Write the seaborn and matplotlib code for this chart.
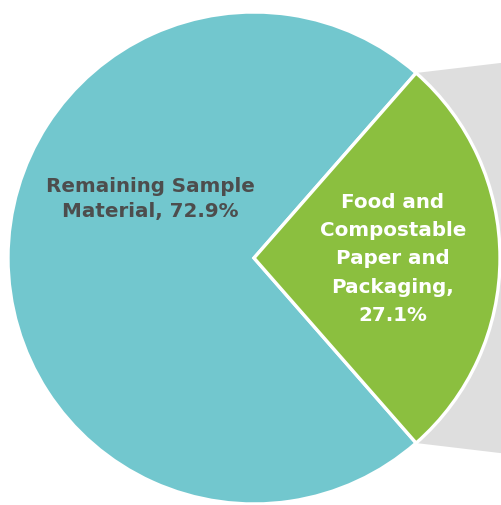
import numpy as np
import matplotlib
matplotlib.use("Agg")
import matplotlib.pyplot as plt
from matplotlib.patches import Polygon
import seaborn as sns

# Composition of the sample
categories = ["Remaining Sample\nMaterial", "Food and\nCompostable\nPaper and\nPackaging,"]
shares = [72.9, 27.1]
colors = ["#72C7CE", "#8BBF3F"]
text_colors = ["#4D4D4D", "#FFFFFF"]

sns.set_theme(style="white")
plt.rcParams["font.family"] = ["DejaVu Sans"]

W, H = 502, 506
fig = plt.figure(figsize=(W / 100, H / 100), dpi=100)
ax = fig.add_axes([0, 0, 1, 1])

cx, cy, r = 254, H - 259, 246
total = sum(shares)
start = 360 * shares[1] / total / 2

wedges, _ = ax.pie(
    shares, colors=colors, startangle=start, center=(cx, cy), radius=r,
    wedgeprops=dict(edgecolor="white", linewidth=2.4), frame=True,
)

# Connector band leading from the green slice towards the breakdown on the right
w = wedges[1]
t1, t2 = np.deg2rad(w.theta1), np.deg2rad(w.theta2)
p_bot = (cx + r * np.cos(t1), cy + r * np.sin(t1))
p_top = (cx + r * np.cos(t2), cy + r * np.sin(t2))
far_x = 620
band = Polygon(
    [p_top, (far_x, p_top[1] + (far_x - p_top[0]) * 9 / 76),
     (far_x, p_bot[1] - (far_x - p_bot[0]) * 10 / 84), p_bot],
    closed=True, facecolor="#DEDEDE", edgecolor="none", zorder=0,
)
ax.add_patch(band)

# Slice labels
ax.text(150, H - 199, f"{categories[0]}, {shares[0]:.1f}%", ha="center", va="center",
        color=text_colors[0], fontsize=14.3, fontweight="bold", linespacing=1.45)
ax.text(393, H - 259, f"{categories[1]}\n{shares[1]:.1f}%", ha="center", va="center",
        color=text_colors[1], fontsize=14.3, fontweight="bold", linespacing=1.63)

ax.set_xlim(0, W)
ax.set_ylim(0, H)
ax.set_aspect("equal")
ax.axis("off")
fig.savefig("out.png", dpi=100, facecolor="white")
